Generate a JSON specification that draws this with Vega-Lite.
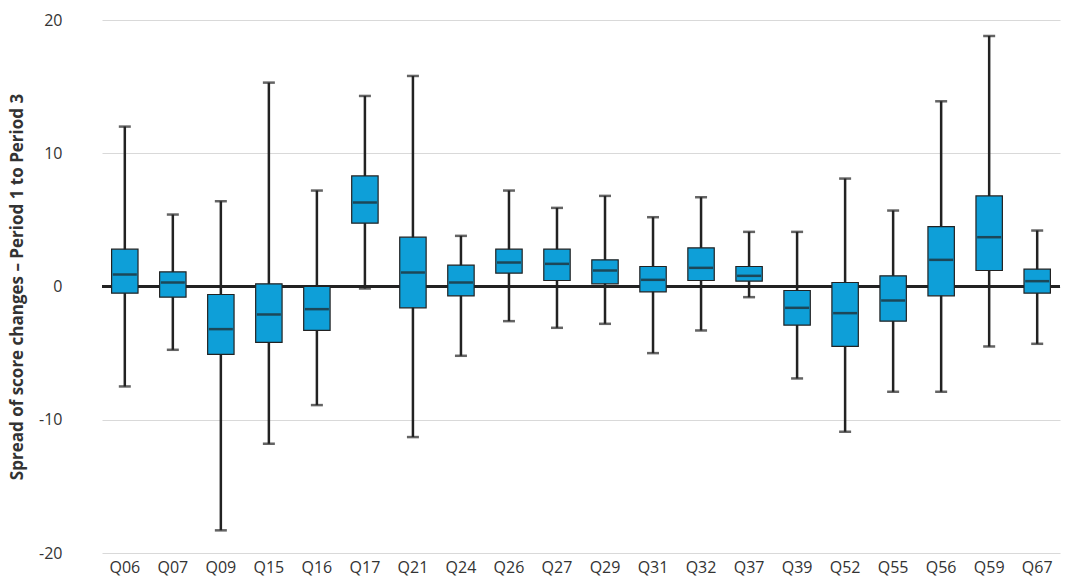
{
  "$schema": "https://vega.github.io/schema/vega-lite/v6.json",
  "width": 1072,
  "height": 580,
  "autosize": {"type": "fit", "contains": "padding"},
  "padding": {"left": 8, "right": 10, "top": 12, "bottom": 5},
  "config": {
    "view": {"stroke": null},
    "font": "Open Sans",
    "axis": {"labelFontSize": 16, "labelColor": "#333", "titleColor": "#333"}
  },
  "data": {
    "values": [
      {"q": "Q06", "min": -7.5, "q1": -0.5, "med": 0.9, "q3": 2.8, "max": 12.0},
      {"q": "Q07", "min": -4.75, "q1": -0.8, "med": 0.3, "q3": 1.1, "max": 5.4},
      {"q": "Q09", "min": -18.3, "q1": -5.1, "med": -3.2, "q3": -0.6, "max": 6.4},
      {"q": "Q15", "min": -11.8, "q1": -4.2, "med": -2.1, "q3": 0.2, "max": 15.3},
      {"q": "Q16", "min": -8.9, "q1": -3.3, "med": -1.7, "q3": 0.0, "max": 7.2},
      {"q": "Q17", "min": -0.15, "q1": 4.75, "med": 6.3, "q3": 8.3, "max": 14.3},
      {"q": "Q21", "min": -11.3, "q1": -1.6, "med": 1.05, "q3": 3.7, "max": 15.8},
      {"q": "Q24", "min": -5.2, "q1": -0.7, "med": 0.3, "q3": 1.6, "max": 3.8},
      {"q": "Q26", "min": -2.6, "q1": 1.0, "med": 1.8, "q3": 2.8, "max": 7.2},
      {"q": "Q27", "min": -3.1, "q1": 0.45, "med": 1.7, "q3": 2.8, "max": 5.9},
      {"q": "Q29", "min": -2.8, "q1": 0.2, "med": 1.2, "q3": 2.0, "max": 6.8},
      {"q": "Q31", "min": -5.0, "q1": -0.4, "med": 0.5, "q3": 1.5, "max": 5.2},
      {"q": "Q32", "min": -3.3, "q1": 0.45, "med": 1.4, "q3": 2.9, "max": 6.7},
      {"q": "Q37", "min": -0.8, "q1": 0.4, "med": 0.8, "q3": 1.5, "max": 4.1},
      {"q": "Q39", "min": -6.9, "q1": -2.9, "med": -1.6, "q3": -0.3, "max": 4.1},
      {"q": "Q52", "min": -10.9, "q1": -4.5, "med": -2.0, "q3": 0.3, "max": 8.1},
      {"q": "Q55", "min": -7.9, "q1": -2.6, "med": -1.05, "q3": 0.8, "max": 5.7},
      {"q": "Q56", "min": -7.9, "q1": -0.7, "med": 2.0, "q3": 4.5, "max": 13.9},
      {"q": "Q59", "min": -4.5, "q1": 1.2, "med": 3.7, "q3": 6.8, "max": 18.8},
      {"q": "Q67", "min": -4.3, "q1": -0.5, "med": 0.4, "q3": 1.3, "max": 4.2}
    ]
  },
  "encoding": {
    "x": {"field": "q", "type": "nominal", "title": null, "sort": null,
      "axis": {"labelAngle": 0, "ticks": false, "domain": false, "labelPadding": 6},
      "scale": {"paddingInner": 0.45, "paddingOuter": 0.2}}
  },
  "layer": [
    {
      "data": {"values": [{"z": 0}]},
      "mark": {"type": "rule", "color": "#222", "strokeWidth": 3},
      "encoding": {"x": null, "y": {"field": "z", "type": "quantitative",
          "scale": {"domain": [-20, 20]},
          "title": "Spread of score changes – Period 1 to Period 3",
          "axis": {"values": [-20, -10, 0, 10, 20], "grid": true, "gridColor": "#d9d9d9",
            "domain": false, "ticks": false, "titleFontSize": 17, "titleFontWeight": "bold",
            "titlePadding": 12, "labelPadding": 40, "labelExpr": "replace(datum.label, '−', '-')"}}}
    },
    {
      "mark": {"type": "rule", "color": "#222", "strokeWidth": 2.5},
      "encoding": {
        "y": {"field": "min", "type": "quantitative"},
        "y2": {"field": "max"}
      }
    },
    {
      "mark": {"type": "bar", "color": "#0e9fd8", "stroke": "#222", "strokeWidth": 1.2},
      "encoding": {"y": {"field": "q1", "type": "quantitative"}, "y2": {"field": "q3"}}
    },
    {
      "mark": {"type": "tick", "color": "#222", "thickness": 2.5, "size": 24},
      "encoding": {"y": {"field": "med", "type": "quantitative"}}
    },
    {
      "mark": {"type": "tick", "color": "#222", "thickness": 2.5, "size": 12},
      "encoding": {"y": {"field": "max", "type": "quantitative"}}
    },
    {
      "mark": {"type": "tick", "color": "#222", "thickness": 2.5, "size": 12},
      "encoding": {"y": {"field": "min", "type": "quantitative"}}
    }
  ]
}
